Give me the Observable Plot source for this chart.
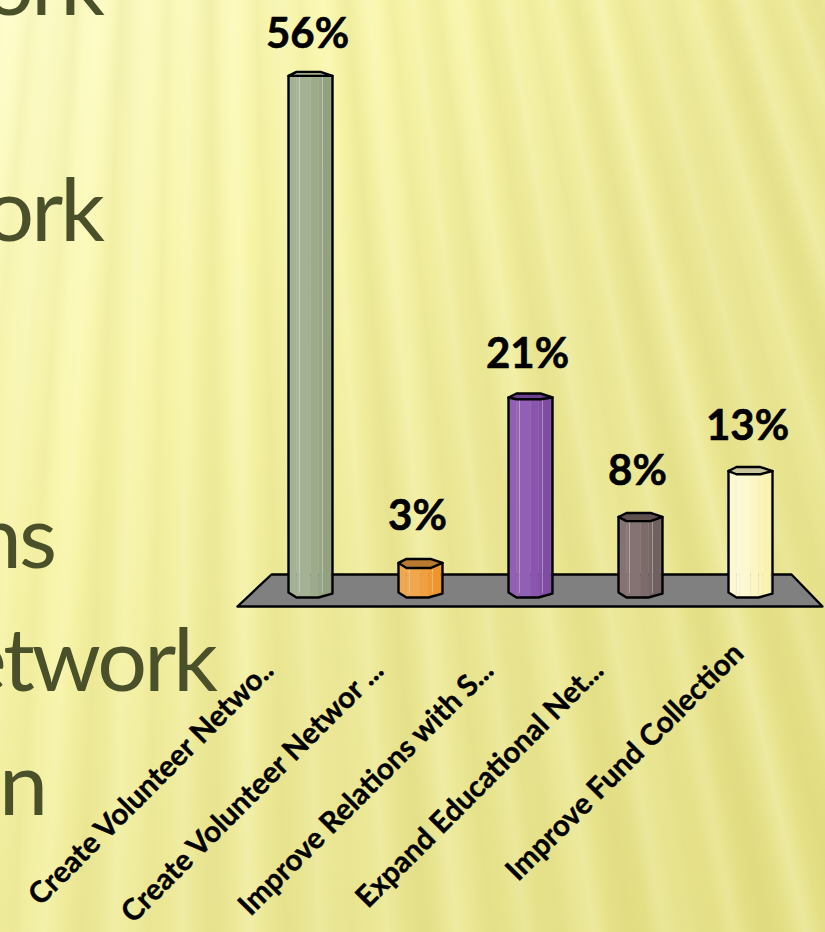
<!DOCTYPE html>
<html><head><meta charset="utf-8">
<script src="https://cdn.jsdelivr.net/npm/d3@7"></script>
<script src="https://cdn.jsdelivr.net/npm/@observablehq/plot@0.6"></script>
<style>
html,body{margin:0;padding:0;width:825px;height:932px;overflow:hidden}
#page{position:relative;width:825px;height:932px;overflow:hidden;
 background:
  repeating-conic-gradient(from 160deg at 200px -1800px,rgba(255,255,215,0) 0deg,rgba(255,255,215,.22) .35deg,rgba(255,255,215,0) .7deg,rgba(205,200,105,.13) 1.05deg,rgba(255,255,215,0) 1.43deg),
  repeating-conic-gradient(from 160deg at 200px -1800px,rgba(255,255,205,0) 0deg,rgba(255,255,205,.12) .55deg,rgba(200,195,100,.08) 1.4deg,rgba(255,255,205,0) 2.31deg),
  linear-gradient(125deg,#fefdca 0%,#f8f5a8 28%,#ece896 55%,#e3de82 100%);}
#page svg{position:absolute;left:0;top:0;background:transparent}
.frag{position:absolute;left:-200px;text-align:right;font:88px/1 "Lato",sans-serif;letter-spacing:-3px;color:#4a5029;white-space:nowrap}
</style></head><body><div id="page"></div>
<script>
const categories = ["Create Volunteer Netwo..","Create Volunteer Networ ...","Improve Relations with S...","Expand Educational Net...","Improve Fund Collection"];
const values = [56,3,21,8,13];
const valueLabels = ["56%","3%","21%","8%","13%"];
const barColors = ["#9dab8d","#f0a040","#8a55ae","#7d6b6b","#fbf6c4"];
const capColors = ["#9dab8d","#b87a30","#6c3f92","#5f5050","#c9c69e"];
const backgroundWords = [["ork",102,-63],["ork",102,163],["ns",54,490],["etwork",215,613],["on",45,737]];

const pxX = 110, pxY = 9.19, x0 = 310, y0 = 590;
const W = 825, H = 932;
const dxU = p => p / pxX, dyU = p => p / pxY;
const yAt = py => (y0 - py) / pxY, xAt = px => (px - x0) / pxX;

const page = document.getElementById("page");
for (const [t, right, top] of backgroundWords) {
  const d = document.createElement("div");
  d.className = "frag"; d.textContent = t;
  d.style.width = (right + 200) + "px"; d.style.top = top + "px";
  page.appendChild(d);
}

const bottomAt = p => p <= -14 ? -5 + (p + 22) * 5 / 8 : p <= 8 ? 0 : -(p - 8) * 4 / 14;
const facets = [[-22,-14,.10],[-14,-11,.16],[-11,0,.10],[0,8,.0],[8,12,-.08],[12,20,-.16],[20,22,-.24]];
const shade = (c, k) => { const h = d3.hsl(c); h.l = Math.max(0, Math.min(1, h.l + k * .28)); return h.formatHex(); };

const strips = [], outlines = [], caps = [], floor = [], highlights = [];
const push = (arr, id, pts, color) => pts.forEach(([x, y]) => arr.push({id, x, y, color}));
const floorY = p => yAt(597) - dyU(bottomAt(p));

push(floor, "floor", [[237,606],[271,574],[791,574],[822,606],[237,606]].map(([a, b]) => [xAt(a), yAt(b)]), "#808080");

values.forEach((v, i) => {
  const X = p => i + dxU(p);
  const front = Math.max(0, (30 - v) * .19), back = 4;
  facets.forEach(([a, b, k], f) => {
    push(strips, `s${i}-${f}`, [[X(a), v],[X(b), v],[X(b), floorY(b)],[X(a), floorY(a)]], shade(barColors[i], k));
  });
  [-11, 12].forEach((p, j) => {
    push(highlights, `h${i}-${j}`, [[X(p), v - dyU(front + 1)],[X(p), yAt(592)]], "none");
  });
  push(outlines, `o${i}`, [[X(-22), v],[X(-22), floorY(-22)],[X(-14), floorY(-14)],[X(8), floorY(8)],[X(20), floorY(20)],[X(22), floorY(22)],[X(22), v]], "none");
  push(caps, `c${i}`, [[-22,0],[-14,back],[10,back],[22,0],[10,-front],[-14,-front],[-22,0]]
    .map(([p, d]) => [X(p), v + dyU(d)]), capColors[i]);
});

const labels = categories.map((c, i) => {
  const cut = c.endsWith("..");
  return {c, x: i + dxU(cut ? -42 : -12), y: yAt(cut ? 665 : 648)};
});

const plot = Plot.plot({
  width: W, height: H, margin: 0,
  style: {background: "transparent", overflow: "visible"},
  x: {domain: [xAt(0), xAt(W)], range: [0, W], axis: null},
  y: {domain: [yAt(H), yAt(0)], range: [H, 0], axis: null},
  marks: [
    Plot.line(floor, {x: "x", y: "y", z: "id", fill: "color", stroke: "#000", strokeWidth: 2.4, curve: "linear"}),
    Plot.line(strips, {x: "x", y: "y", z: "id", fill: "color", stroke: "color", strokeWidth: .6, curve: "linear"}),
    Plot.line(highlights, {x: "x", y: "y", z: "id", stroke: "#fff", strokeOpacity: .3, strokeWidth: 1, curve: "linear"}),
    Plot.line(outlines, {x: "x", y: "y", z: "id", stroke: "#000", strokeWidth: 2.4, curve: "linear"}),
    Plot.line(caps, {x: "x", y: "y", z: "id", fill: "color", stroke: "#000", strokeWidth: 2.4, curve: "linear"}),
    Plot.text(values, {x: (d, i) => i, y: d => d + dyU(41 + Math.max(0, (30 - d) * .19)), text: (d, i) => valueLabels[i], dx: -3,
      fontFamily: "Lato", fontWeight: 700, fontSize: 42, fill: "#000", stroke: "#000", strokeWidth: .6}),
    Plot.text(labels, {x: "x", y: "y", text: "c", rotate: -45, textAnchor: "end",
      fontFamily: "Lato", fontWeight: 700, fontSize: 29.5, fill: "#000", stroke: "#000", strokeWidth: .4})
  ]
});
page.appendChild(plot);
</script></body></html>
